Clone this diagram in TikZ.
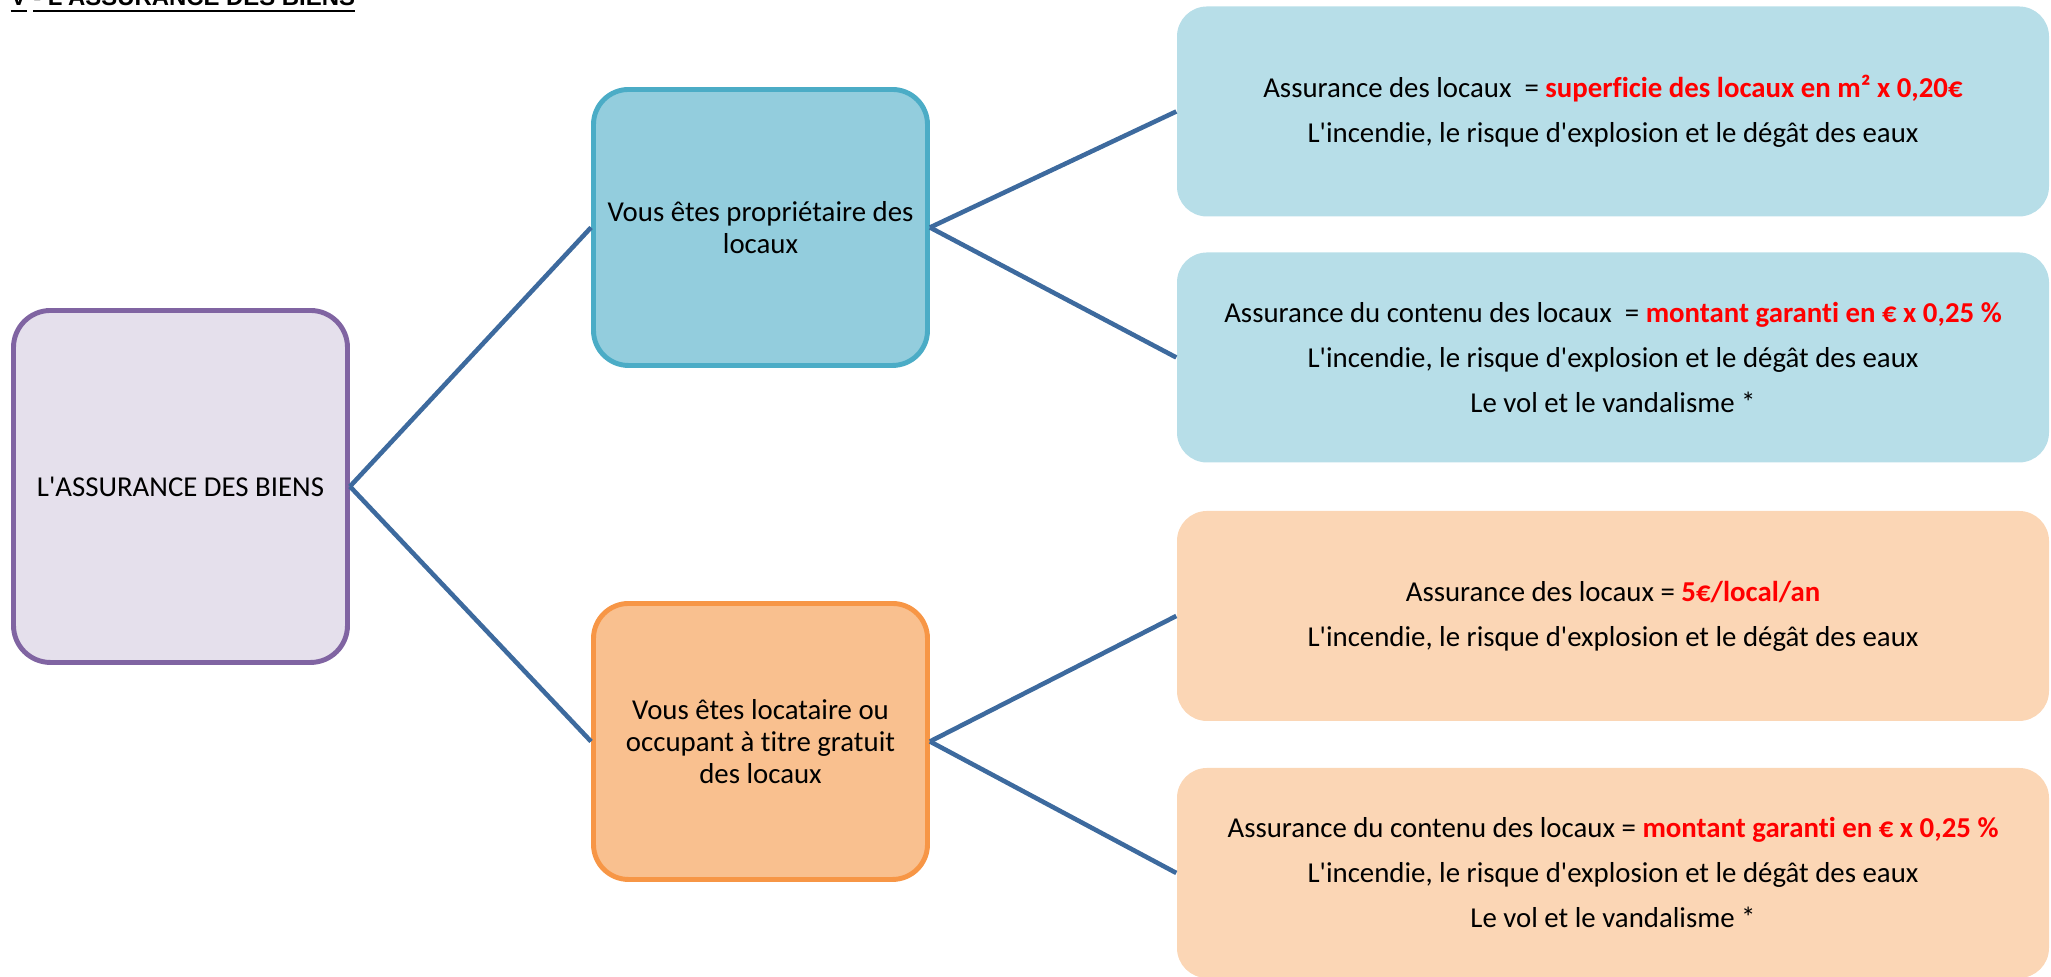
\documentclass[tikz,border=0pt]{standalone}
\usepackage{fontspec}
\setmainfont{Carlito}[Ligatures={TeXOff,NoCommon}]
\newfontfamily\titrefont{Liberation Sans}[Ligatures=TeXOff]

\definecolor{lavande}{RGB}{229,224,236}
\definecolor{violet}{RGB}{128,100,162}
\definecolor{bleufond}{RGB}{147,205,221}
\definecolor{bleubord}{RGB}{75,172,198}
\definecolor{bleuclair}{RGB}{183,222,232}
\definecolor{orangefond}{RGB}{249,192,143}
\definecolor{orangebord}{RGB}{247,150,70}
\definecolor{orangeclair}{RGB}{251,214,181}
\definecolor{bleulien}{RGB}{61,106,158}
\definecolor{rouge}{RGB}{255,0,0}

\newcommand\montant[1]{\textcolor{rouge}{\textbf{#1}}}

\begin{document}
\begin{tikzpicture}[font=\fontsize{8.2}{9.1}\selectfont,
  racine/.style={draw=violet, fill=lavande, line width=1.4pt,
    rounded corners=0.37cm, minimum width=3.34cm, minimum height=3.52cm,
    inner sep=0pt, align=center},
  choix/.style={line width=1.4pt, rounded corners=0.35cm,
    minimum width=3.34cm, minimum height=2.76cm, inner sep=0pt, align=center},
  detail/.style={rounded corners=0.3cm, minimum width=8.72cm,
    minimum height=2.1cm, inner sep=0pt, align=center,
    font=\fontsize{8.2}{12.8}\selectfont},
  lien/.style={draw=bleulien, line width=1.3pt}]

\useasboundingbox (0,0) rectangle (20.51,9.77);

% Titre (coupe en haut)
\node[anchor=base west, inner sep=0pt] (titre) at (0.10,9.71)
{\titrefont\fontsize{6.8}{8}\selectfont\bfseries\underline{V} \underline{- L'ASSURANCE DES BIENS}};

% Racine
\node[racine] (biens) at (1.805,4.905)
{L'ASSURANCE DES BIENS};

%--------------------------------------------------
% Proprietaire
%--------------------------------------------------
\node[choix, draw=bleubord, fill=bleufond] (proprio) at (7.605,7.495)
{Vous êtes propriétaire des\\locaux};

\node[detail, fill=bleuclair] (locauxA) at (16.13,8.655)
{Assurance des locaux~ = \montant{superficie des locaux en m² x 0,20€}\\
L'incendie, le risque d'explosion et le dégât des eaux};

\node[detail, fill=bleuclair] (contenuA) at (16.13,6.195)
{Assurance du contenu des locaux~ = \montant{montant garanti en € x 0,25 \%}\\
L'incendie, le risque d'explosion et le dégât des eaux\\
Le vol et le vandalisme *};

%--------------------------------------------------
% Locataire
%--------------------------------------------------
\node[choix, draw=orangebord, fill=orangefond] (locataire) at (7.605,2.355)
{Vous êtes locataire ou\\occupant à titre gratuit\\des locaux};

\node[detail, fill=orangeclair] (locauxB) at (16.13,3.61)
{Assurance des locaux = \montant{5€/local/an}\\
L'incendie, le risque d'explosion et le dégât des eaux};

\node[detail, fill=orangeclair] (contenuB) at (16.13,1.04)
{Assurance du contenu des locaux = \montant{montant garanti en € x 0,25 \%}\\
L'incendie, le risque d'explosion et le dégât des eaux\\
Le vol et le vandalisme *};

% Liens
\draw[lien] (biens.east)--(proprio.west);
\draw[lien] (biens.east)--(locataire.west);
\draw[lien] (proprio.east)--(locauxA.west);
\draw[lien] (proprio.east)--(contenuA.west);
\draw[lien] (locataire.east)--(locauxB.west);
\draw[lien] (locataire.east)--(contenuB.west);

\end{tikzpicture}
\end{document}
